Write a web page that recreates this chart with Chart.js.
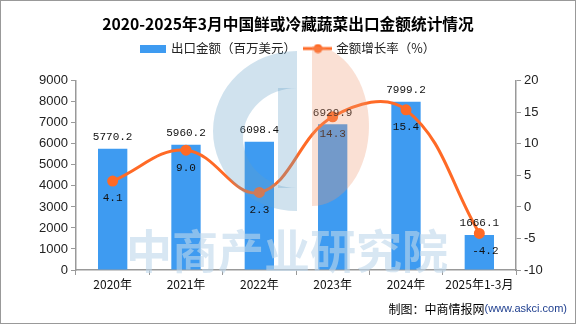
<!DOCTYPE html>
<html lang="zh">
<head>
<meta charset="UTF-8">
<title>2020-2025年3月中国鲜或冷藏蔬菜出口金额统计情况</title>
<style>
    html, body { margin: 0; padding: 0; background: #fff; }
    .wrap {
        width: 576px;
        height: 324px;
        box-sizing: border-box;
        border: 1px solid #999;
        position: relative;
    }
</style>
<script src="https://cdn.jsdelivr.net/npm/chart.js"></script>
</head>
<body>
<div class="wrap"><canvas id="chart"></canvas></div>
<script>
const years = ['2020年', '2021年', '2022年', '2023年', '2024年', '2025年1-3月'];
const exportValue = [5770.2, 5960.2, 6098.4, 6929.9, 7999.2, 1666.1];
const growthRate = [4.1, 9.0, 2.3, 14.3, 15.4, -4.2];

const BLUE = '#3E9BF1';
const ORANGE = '#FF6A26';
const FONT = '"Noto Sans CJK SC", "Liberation Sans", sans-serif';
const TICK_FONT = '"Liberation Sans", sans-serif';

// legend icons
function makeIcon(w, h, draw) {
    const c = document.createElement('canvas');
    c.width = w; c.height = h;
    draw(c.getContext('2d'));
    return c;
}
const barIcon = makeIcon(26, 8, ctx => { ctx.fillStyle = BLUE; ctx.fillRect(0, 0, 26, 8); });
const lineIcon = makeIcon(29, 10, ctx => {
    ctx.strokeStyle = ORANGE; ctx.lineWidth = 3;
    ctx.beginPath(); ctx.moveTo(0, 5); ctx.lineTo(29, 5); ctx.stroke();
    ctx.fillStyle = ORANGE;
    ctx.beginPath(); ctx.arc(14.5, 5, 4.5, 0, Math.PI * 2); ctx.fill();
});

// push the plot area down a bit under the legend
const legendGap = {
    id: 'legendGap',
    beforeInit(chart) {
        const fit = chart.legend.fit;
        chart.legend.fit = function () {
            fit.call(this);
            this.height += 16;
        };
    }
};

const labelPlugin = {
    id: 'valueLabels',
    afterDatasetsDraw(chart) {
        const ctx = chart.ctx;
        ctx.save();
        ctx.font = '11px "Liberation Mono", "DejaVu Sans Mono", monospace';
        ctx.fillStyle = '#111';
        ctx.textAlign = 'center';
        chart.getDatasetMeta(0).data.forEach((el, i) => {
            ctx.textBaseline = 'bottom';
            ctx.fillText(exportValue[i].toFixed(1), el.x, el.y - 6);
        });
        chart.getDatasetMeta(1).data.forEach((el, i) => {
            ctx.textBaseline = 'top';
            ctx.fillText(growthRate[i].toFixed(1), el.x + (i === 5 ? 6 : 0), el.y + 12);
        });
        ctx.restore();
    },
    afterDraw(chart) {
        const ctx = chart.ctx;
        ctx.save();
        // watermark logo
        ctx.globalAlpha = 0.3;
        ctx.fillStyle = 'rgb(100,160,200)';
        ctx.beginPath();
        ctx.ellipse(296, 130, 84, 80, 0, Math.PI / 2, Math.PI * 1.5);
        ctx.ellipse(296, 137, 54, 50, 0, Math.PI * 1.5, Math.PI / 2, true);
        ctx.closePath();
        ctx.fill();
        ctx.fillRect(277, 87, 19, 100);
        ctx.fillStyle = 'rgb(238,152,112)';
        ctx.beginPath();
        ctx.ellipse(311, 125, 57, 80, 0, -Math.PI / 2, Math.PI / 2);
        ctx.closePath();
        ctx.fill();
        // watermark text
        ctx.globalAlpha = 0.6;
        ctx.fillStyle = 'rgb(190,215,235)';
        ctx.font = 'bold 46px "Noto Sans CJK SC"';
        ctx.textAlign = 'center';
        ctx.textBaseline = 'middle';
        ctx.fillText('中商产业研究院', 286, 250);
        ctx.globalAlpha = 1;
        // footer
        ctx.textBaseline = 'middle';
        ctx.textAlign = 'right';
        ctx.font = '11px "Liberation Sans", sans-serif';
        ctx.fillStyle = '#1F3F8F';
        const url = '(www.askci.com)';
        ctx.fillText(url, 566, 308);
        const w = ctx.measureText(url).width;
        ctx.font = '12px "Noto Sans CJK SC"';
        ctx.fillStyle = '#000';
        ctx.fillText('制图：中商情报网', 566 - w, 308);
        ctx.restore();
    }
};

new Chart(document.getElementById('chart'), {
    data: {
        labels: years,
        datasets: [
            {
                type: 'bar',
                label: '出口金额（百万美元）',
                data: exportValue,
                backgroundColor: BLUE,
                yAxisID: 'y',
                barPercentage: 0.8,
                categoryPercentage: 0.5,
                order: 2
            },
            {
                type: 'line',
                label: '金额增长率（%）',
                data: growthRate,
                borderColor: ORANGE,
                backgroundColor: ORANGE,
                borderWidth: 3,
                pointRadius: 4,
                pointHoverRadius: 4,
                tension: 0.4,
                yAxisID: 'y1',
                order: 1
            }
        ]
    },
    options: {
        responsive: true,
        maintainAspectRatio: false,
        animation: false,
        events: [],
        plugins: {
            title: {
                display: true,
                text: '2020-2025年3月中国鲜或冷藏蔬菜出口金额统计情况',
                color: '#000',
                font: { family: FONT, size: 15.7, weight: 'bold', lineHeight: 1 },
                padding: { top: 15.6, bottom: 0 }
            },
            legend: {
                display: true,
                labels: {
                    usePointStyle: true,
                    pointStyleWidth: 24,
                    color: '#222',
                    font: { family: FONT, size: 12.5 },
                    padding: 10,
                    generateLabels() {
                        return [
                            { text: '出口金额（百万美元）', pointStyle: barIcon, datasetIndex: 0, fontColor: '#222', lineWidth: 0 },
                            { text: '金额增长率（%）', pointStyle: lineIcon, datasetIndex: 1, fontColor: '#222', lineWidth: 0 }
                        ];
                    }
                }
            },
            tooltip: { enabled: false }
        },
        scales: {
            x: {
                offset: true,
                grid: { display: true, drawOnChartArea: false, drawTicks: true, tickLength: 5, offset: true, color: '#999' },
                border: { color: '#999', width: 1.5 },
                ticks: { color: '#111', font: { family: FONT, size: 12 }, padding: 2, maxRotation: 0, autoSkip: false },
                afterFit(scale) { scale.height = 53; }
            },
            y: {
                position: 'left',
                min: 0,
                max: 9000,
                ticks: { stepSize: 1000, color: '#222', font: { family: TICK_FONT, size: 13 }, padding: 3, callback: v => String(v) },
                grid: { drawOnChartArea: false, drawTicks: true, tickLength: 5, color: '#999' },
                border: { color: '#999', width: 1.5 },
                afterFit(scale) { scale.width = 75; }
            },
            y1: {
                position: 'right',
                min: -10,
                max: 20,
                ticks: { stepSize: 5, color: '#222', font: { family: TICK_FONT, size: 13 }, padding: 3, callback: v => String(v) },
                grid: { drawOnChartArea: false, drawTicks: true, tickLength: 5, color: '#999' },
                border: { color: '#999', width: 1.5 },
                afterFit(scale) { scale.width = 59; }
            }
        }
    },
    plugins: [legendGap, labelPlugin]
});
</script>
</body>
</html>
